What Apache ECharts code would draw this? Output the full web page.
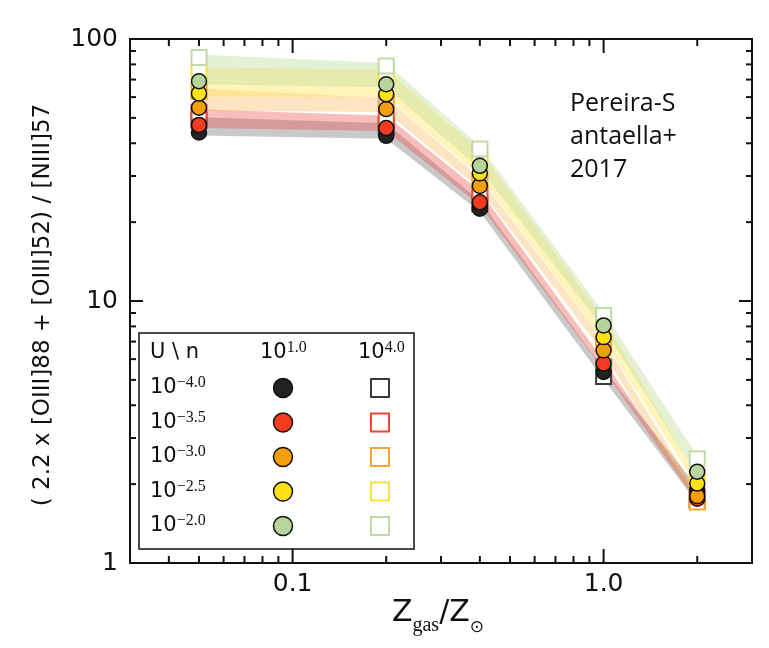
<!DOCTYPE html>
<html>
<head>
<meta charset="utf-8">
<title>[OIII]/[NIII] ratio vs Z_gas</title>
<script src="https://cdn.jsdelivr.net/npm/echarts@6/dist/echarts.min.js"></script>
<style>
  html, body { margin: 0; padding: 0; background: #fff; }
  #main { width: 769px; height: 648px; }
</style>
</head>
<body>
<div id="main"></div>
<script>
// metallicity grid, Z_gas / Z_sun
var zGas = [0.05, 0.2, 0.4, 1.0, 2.0];

// legend labels: log U rows, log n columns
var uLabels = ['−4.0', '−3.5', '−3.0', '−2.5', '−2.0'];
var nLabels = ['1.0', '4.0'];

// ratio at n = 10^1.0 (filled circles), one row per U
var ratioLowN = [
  [44.0, 42.7, 22.5, 5.36, 1.90],
  [47.0, 45.7, 23.8, 5.77, 1.76],
  [54.7, 54.0, 27.5, 6.48, 1.80],
  [62.0, 61.5, 30.7, 7.28, 2.01],
  [69.0, 67.2, 32.8, 8.07, 2.23]
];
// ratio at n = 10^4.0 (open squares)
var ratioHighN = [
  [49.0, 46.5, 23.5, 5.15, 1.74],
  [52.5, 49.6, 25.6, 5.60, 1.75],
  [63.0, 58.0, 28.8, 6.87, 1.71],
  [76.0, 74.4, 36.4, 8.30, 2.10],
  [85.0, 78.9, 38.0, 8.81, 2.50]
];

// tick positions (log axes, drawn inward like the original)
var xMajorTicks = [0.1, 1];
var xMinorTicks = [0.04, 0.05, 0.06, 0.07, 0.08, 0.09, 0.2, 0.3, 0.4, 0.5, 0.6, 0.7, 0.8, 0.9, 2];
var yMajorTicks = [10];
var yMinorTicks = [2, 3, 4, 5, 6, 7, 8, 9, 20, 30, 40, 50, 60, 70, 80, 90];

var X_MIN = 0.03, X_MAX = 3, Y_MIN = 1, Y_MAX = 100;

var circleColors = ['#222222', '#f23b1f', '#f59e0b', '#ffe216', '#b7d49b'];
var squareColors = ['#3a3a3a', '#ef4a33', '#f2a531', '#f7e43a', '#c3d9ad'];
var bandColors = ['rgba(120,120,120,0.40)', 'rgba(235,70,60,0.35)', 'rgba(250,170,60,0.30)',
                  'rgba(255,225,60,0.35)', 'rgba(190,220,150,0.40)'];

var myChart = echarts.init(document.getElementById('main'));

function near(v, t) { return Math.abs(Math.log10(v) - Math.log10(t)) < 1e-6; }

// shaded band between the two densities for one U
function bandSeries(i) {
  var pad = 3;
  return {
    type: 'custom', silent: true, z: 1,
    data: zGas.map(function (z, k) { return [z, ratioLowN[i][k], ratioHighN[i][k]]; }),
    encode: { x: 0, y: [1, 2] },
    renderItem: function (params, api) {
      if (params.dataIndex !== 0) return null;
      var top = [], bot = [];
      zGas.forEach(function (z, k) {
        var lo = Math.min(ratioLowN[i][k], ratioHighN[i][k]);
        var hi = Math.max(ratioLowN[i][k], ratioHighN[i][k]);
        var p1 = api.coord([z, hi]);
        var p2 = api.coord([z, lo]);
        top.push([p1[0], p1[1] - pad]);
        bot.unshift([p2[0], p2[1] + pad]);
      });
      return { type: 'polygon', shape: { points: top.concat(bot) }, style: { fill: bandColors[i] } };
    }
  };
}

// inward ticks on all four sides
function tickSeries(vals, dir, len) {
  return {
    type: 'custom', silent: true, z: 6,
    data: vals.map(function (v) { return dir === 'x' ? [v, 10] : [1, v]; }),
    encode: { x: 0, y: 1 },
    renderItem: function (params, api) {
      var a, b, c, d;
      if (dir === 'x') {
        var v = api.value(0);
        a = api.coord([v, Y_MIN]); b = api.coord([v, Y_MAX]);
        c = [a[0], a[1] - len]; d = [b[0], b[1] + len];
      } else {
        var w = api.value(1);
        a = api.coord([X_MIN, w]); b = api.coord([X_MAX, w]);
        c = [a[0] + len, a[1]]; d = [b[0] - len, b[1]];
      }
      var st = { stroke: '#111', lineWidth: 2 };
      return {
        type: 'group', children: [
          { type: 'line', shape: { x1: a[0], y1: a[1], x2: c[0], y2: c[1] }, style: st },
          { type: 'line', shape: { x1: b[0], y1: b[1], x2: d[0], y2: d[1] }, style: st }
        ]
      };
    }
  };
}

var series = [];
for (var i = 0; i < 5; i++) series.push(bandSeries(i));
for (var i = 0; i < 5; i++) {
  series.push({
    type: 'scatter', symbol: 'rect', symbolSize: 15, z: 3, silent: true,
    data: zGas.map(function (z, k) { return [z, ratioHighN[i][k]]; }),
    itemStyle: { color: '#fff', borderColor: squareColors[i], borderWidth: 2, opacity: 1 }
  });
}
for (var i = 0; i < 5; i++) {
  series.push({
    type: 'scatter', symbol: 'circle', symbolSize: 15, z: 4, silent: true,
    data: zGas.map(function (z, k) { return [z, ratioLowN[i][k]]; }),
    itemStyle: { color: circleColors[i], borderColor: '#111', borderWidth: 1.5, opacity: 1 }
  });
}
series.push(tickSeries(xMajorTicks, 'x', 14));
series.push(tickSeries(xMinorTicks, 'x', 7));
series.push(tickSeries(yMajorTicks, 'y', 13));
series.push(tickSeries(yMinorTicks, 'y', 6));

// legend table
var lgX = 139, lgY = 333, rowY0 = 388, rowStep = 34.5;
var supRich = {
  b: { fontSize: 21, fontFamily: 'DejaVu Sans', lineHeight: 26, fill: '#111' },
  s: { fontSize: 16, fontFamily: 'Liberation Serif', lineHeight: 16, verticalAlign: 'top', fill: '#111' }
};
var legendEls = [
  { type: 'rect', shape: { x: lgX, y: lgY, width: 275, height: 216 },
    style: { fill: '#fff', stroke: '#111', lineWidth: 1.5 } },
  { type: 'text', x: 150, y: 353,
    style: { text: 'U \\ n', font: '21px "DejaVu Sans"', fill: '#111', verticalAlign: 'middle' } },
  { type: 'text', x: 260, y: 353,
    style: { text: '{b|10}{s|' + nLabels[0] + '}', rich: supRich, verticalAlign: 'middle' } },
  { type: 'text', x: 358, y: 353,
    style: { text: '{b|10}{s|' + nLabels[1] + '}', rich: supRich, verticalAlign: 'middle' } }
];
uLabels.forEach(function (u, k) {
  var y = rowY0 + k * rowStep;
  legendEls.push({ type: 'text', x: 150, y: y,
    style: { text: '{b|10}{s|' + u + '}', rich: supRich, verticalAlign: 'middle' } });
  legendEls.push({ type: 'circle', shape: { cx: 283, cy: y, r: 9.5 },
    style: { fill: circleColors[k], stroke: '#111', lineWidth: 1.5 } });
  legendEls.push({ type: 'rect', shape: { x: 371, y: y - 9, width: 18, height: 18 },
    style: { fill: '#fff', stroke: squareColors[k], lineWidth: 2 } });
});

var option = {
  animation: false,
  backgroundColor: '#fff',
  grid: { left: 130, right: 17, top: 39, bottom: 85, show: true,
          borderColor: '#111', borderWidth: 2, backgroundColor: 'transparent' },
  xAxis: {
    type: 'log', logBase: 10, min: X_MIN, max: X_MAX,
    axisLine: { show: false }, axisTick: { show: false }, splitLine: { show: false },
    axisLabel: {
      margin: 9, fontSize: 25, fontFamily: 'DejaVu Sans', color: '#111',
      showMinLabel: true, showMaxLabel: true,
      formatter: function (v) { return near(v, 0.1) ? '0.1' : (near(v, 1) ? '1.0' : ''); }
    }
  },
  yAxis: {
    type: 'log', logBase: 10, min: Y_MIN, max: Y_MAX,
    axisLine: { show: false }, axisTick: { show: false }, splitLine: { show: false },
    axisLabel: {
      margin: 12, fontSize: 25, fontFamily: 'DejaVu Sans', color: '#111',
      showMinLabel: true, showMaxLabel: true,
      formatter: function (v) {
        if (near(v, 1)) return '1';
        if (near(v, 10)) return '10';
        if (near(v, 100)) return '100';
        return '';
      }
    }
  },
  graphic: [
    { type: 'text', x: 43, y: 305, rotation: Math.PI / 2,
      style: { text: '( 2.2 x [OIII]88 + [OIII]52) / [NIII]57', font: '23px "DejaVu Sans"',
               fill: '#111', align: 'center', verticalAlign: 'middle' } },
    { type: 'text', x: 438, y: 598,
      style: {
        text: '{m|Z}{g|gas}{m|/Z}{o|⊙}', align: 'center', verticalAlign: 'top',
        rich: {
          m: { fontSize: 30, fontFamily: 'DejaVu Sans', lineHeight: 34, verticalAlign: 'top', fill: '#111' },
          g: { fontSize: 20, fontFamily: 'Liberation Serif', lineHeight: 22, verticalAlign: 'bottom', fill: '#111', padding: [0, 0, -4, 0] },
          o: { fontSize: 17, fontFamily: 'DejaVu Sans', lineHeight: 20, verticalAlign: 'bottom', fill: '#111', padding: [0, 0, -4, 0] }
        }
      } },
    { type: 'text', x: 570, y: 87,
      style: { text: 'Pereira-S\nantaella+\n2017', font: '25px "Open Sans"', lineHeight: 33,
               fill: '#111', verticalAlign: 'top' } },
    { type: 'group', children: legendEls, z: 10 }
  ],
  series: series
};

myChart.setOption(option);
</script>
</body>
</html>
